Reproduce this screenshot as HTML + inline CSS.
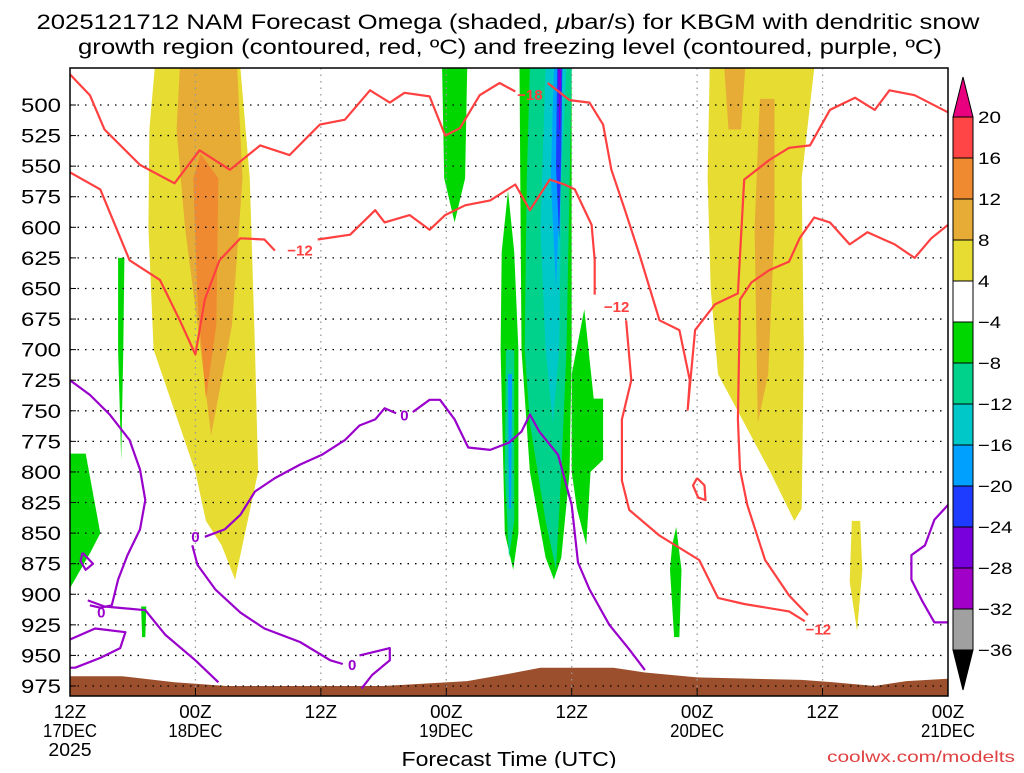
<!DOCTYPE html>
<html><head><meta charset="utf-8"><style>
body{margin:0;background:#fff;width:1024px;height:768px;overflow:hidden;font-family:"Liberation Sans",sans-serif}
svg text{font-family:"Liberation Sans",sans-serif}
</style></head><body>
<svg id="chart" width="1024" height="768" xmlns="http://www.w3.org/2000/svg">
<text x="508" y="29" font-size="21" text-anchor="middle" textLength="943" lengthAdjust="spacingAndGlyphs">2025121712 NAM Forecast Omega (shaded, <tspan font-style="italic">μ</tspan>bar/s) for KBGM with dendritic snow</text>
<text x="510" y="54" font-size="21" text-anchor="middle" textLength="864" lengthAdjust="spacingAndGlyphs">growth region (contoured, red, ºC) and freezing level (contoured, purple, ºC)</text>
<g id="shade"></g><g id="grid"></g><g id="contours"></g><g id="axes"></g><g id="cbar"></g>
<text x="509" y="766" font-size="20" text-anchor="middle" textLength="215" lengthAdjust="spacingAndGlyphs">Forecast Time (UTC)</text>
<text x="1015" y="762" font-size="16" fill="#e04040" text-anchor="end" textLength="188" lengthAdjust="spacingAndGlyphs">coolwx.com/modelts</text>
</svg>
<script>
const pressureTicks=[500,525,550,575,600,625,650,675,700,725,750,775,800,825,850,875,900,925,950,975];
const timeHours=[0,12,24,36,48,60,72,84];
const timeLabels=[["12Z","17DEC","2025"],["00Z","18DEC"],["12Z"],["00Z","19DEC"],["12Z"],["00Z","20DEC"],["12Z"],["00Z","21DEC"]];
const cbarLabels=["20","16","12","8","4","−4","−8","−12","−16","−20","−24","−28","−32","−36"];
const cbarColors=["#ff4545","#f08a30","#e6ac35","#e6dc32","#ffffff","#00d700","#00d28c","#00c8c8","#00a0ff","#1e3cff","#7800dc","#a000c8","#a0a0a0"];
// shaded omega regions [hour, pressure]
const yellow1=[[8.1,470],[16.3,470],[17.2,560],[17.7,700],[18,800],[16,880],[15.8,888],[14.5,860],[13,840],[12,800],[10,750],[8,700],[7.5,600],[7.6,520]];
const ltorange1=[[10.5,470],[16,470],[16.5,560],[15.5,680],[13.5,770],[12.5,700],[11,600],[10.2,520]];
const orange1=[[12.5,540],[14.2,560],[14,680],[13,740],[12.2,660],[11.8,560]];
const yellow2=[[61.2,470],[71.2,470],[70,560],[70.2,700],[70,830],[69.3,840],[67,800],[64.5,760],[62,720],[61.3,650],[61,560]];
const ltorange2=[[66,495],[67.4,495],[67.4,600],[66.8,720],[65.8,760],[65.5,600]];
const ltorange3=[[62.6,470],[64.6,470],[64.2,520],[63,520]];
const yellow3=[[74.8,840],[75.6,840],[75.8,880],[75.3,930],[74.6,890]];
const greenA=[[4.6,625],[5.2,625],[5.1,700],[4.9,790],[4.6,700]];
const greenB=[[0,785],[1.5,785],[2.9,850],[2,865],[0,895]];
const greenC=[[6.8,910],[7.3,910],[7.2,935],[6.9,935]];
const greenD=[[35.6,470],[38,470],[37.8,560],[36.8,596],[35.8,560]];
const greenMain=[[43,470],[48,470],[48,700],[47.8,800],[47,870],[46.3,888],[45.5,870],[44,800],[43.2,700]];
const greenLeft=[[41.9,570],[42.5,620],[42.9,700],[42.9,850],[42.4,880],[41.6,850],[41.2,700],[41.3,620]];
const greenRight=[[48,720],[49.2,667],[50.1,740],[51,740],[51,790],[49.8,800],[49.4,860],[48.5,830],[48,800]];
const greenE=[[57.6,860],[58,845],[58.5,880],[58.3,935],[57.8,935],[57.4,880]];
const teal1=[[44,470],[48,470],[47.5,700],[47,800],[46.5,880],[45.5,840],[44,760],[43.5,700],[43.7,560]];
const teal2=[[41.7,700],[42.5,700],[42.5,840],[42,870],[41.6,800]];
const cyan1=[[45.5,470],[47.5,470],[47,560],[46.8,700],[46.2,760],[45.5,700],[45,600]];
const lblue1=[[46.3,470],[47.1,470],[46.8,580],[46.5,650],[46,560]];
const lblue2=[[41.9,720],[42.3,720],[42.2,830],[42,830]];
const blue1=[[46.6,470],[47.1,470],[47,540],[46.8,610],[46.5,550]];
const purple1=[[46.7,470],[47,470],[46.9,520],[46.8,520]];
const terrainHours=[0,5,10,15,30,38,42,45,52,55,60,70,73,77,80,84];
const terrainPressure=[967,967,972,975,975,971,965,960,960,964,968,970,972,975,971,969];
// contours
const red18=[[0,475],[1.9,492],[3.3,520],[6.7,549],[10,564],[12.4,537],[15.3,553],[18.2,533],[21,541],[23.9,516],[26.3,512],[28.7,488],[30.6,498],[32,490],[34.4,493],[35.9,525],[37.3,519],[39.2,492],[41.1,482],[42.6,489]];
const red18b=[[45.7,482],[47.8,496],[49.7,498],[51,516],[51.8,553],[53.1,586],[54.5,623],[56.4,676],[58.3,684],[59.3,725],[59.1,749],[59.8,684],[61.7,663],[63.9,654],[64.5,561],[66.9,545],[68.8,535],[70.8,533],[72.7,504],[75.1,494],[77,504],[78.4,488],[80.8,492],[84,506]];
const red12a=[[0,555],[2.9,569],[5.7,627],[8.6,643],[10.5,676],[12,704],[12.9,659],[14.3,627],[16.3,609],[18.6,610],[19.6,619]];
const red12b=[[23.7,610],[26.8,606],[29.2,586],[30.1,596],[32.5,590],[34.4,602],[35.9,590],[37.8,582],[40.2,578],[42.6,565],[44,586],[45.9,561],[47.3,565],[48.3,569],[49.9,598],[50.2,627],[50.2,655]];
const red12c=[[53.2,676],[53.7,725],[52.8,757],[52.8,807],[53.5,831],[56.4,852],[60.2,872],[62,903],[64.5,908],[68.8,914],[70.3,922]];
const red12d=[[70.6,917],[68.8,901],[66.5,872],[64.8,827],[64.1,798],[63.9,757],[64.1,659],[65.2,645],[66.9,635],[68.8,628],[69.8,609],[71.2,592],[72.7,596],[74.6,614],[76.3,604],[78.9,614],[80.8,625],[82.4,609],[84,598]];
const redLoop=[[60,805],[60.7,811],[60.8,823],[60.1,821],[59.6,811],[60,805]];
const frz1=[[0,725],[1.9,737],[3.8,753],[5.7,774],[6.7,798],[7.2,823],[6.7,847],[5.5,868],[4.6,888],[4,909],[2.9,911],[1.9,909]];
const frz2=[[1.7,905],[3.3,910],[7.2,913],[9.1,933],[12,954],[14.2,972]];
const frz3=[[0,937],[2.4,928],[5.3,931],[4.8,944],[2.9,952],[0.5,960],[0,960]];
const frz4=[[12.9,853],[14.8,847],[16.3,835],[17.7,816],[19.6,805],[22,794],[24.1,786],[26.3,774],[27.7,762],[29.2,757],[30.1,748],[31.2,752]];
const frz5=[[32.8,751],[34.4,741],[35.4,741],[36.8,757],[38.1,780],[40.2,782],[42,776],[43.2,767],[44,753],[44.9,767],[46.7,786],[47.3,805],[48,827],[48.6,874],[49.7,896],[51.6,925],[53.5,945],[55,962]];
const frz6=[[11.7,860],[12.2,876],[13.9,896],[16.3,915],[18.6,928],[22,939],[24.9,954],[26.1,957]];
const frz7=[[27.7,950],[30.6,944],[30.6,954],[28.9,966],[27.9,977]];
const frz8=[[84,827],[82.7,839],[81.8,860],[80.5,868],[80.5,888],[81.5,905],[82.7,923],[84,923]];
const frz9=[[1.2,866],[2.2,875],[1.5,880],[1.0,873],[1.2,866]];
const redLabels=[["−18",44,492],["−12",22,619],["−12",52.3,665],["−12",71.6,929]];
const frzLabels=[["0",12,853],["0",32,754],["0",27,958],["0",3,915]];

const X0=70,X1=948,Y0=68,Y1=696;
const x=h=>X0+h*(X1-X0)/84;
const y=p=>105+(p-500)*(686-105)/475;
const NS="http://www.w3.org/2000/svg";
function mk(tag,parent,attrs){const e=document.createElementNS(NS,tag);for(const k in attrs)e.setAttribute(k,attrs[k]);parent.appendChild(e);return e;}
const pts=a=>a.map(d=>x(d[0]).toFixed(1)+","+y(d[1]).toFixed(1)).join(" ");
const shade=document.getElementById('shade');
const clip=mk('clipPath',mk('defs',document.getElementById('chart'),{}),{id:'pc'});
mk('rect',clip,{x:X0,y:Y0,width:X1-X0,height:Y1-Y0});
shade.setAttribute('clip-path','url(#pc)');
const polys=[[yellow1,"#e6dc32","yellow-region-1"],[ltorange1,"#e6ac35","lightorange-region-1"],[orange1,"#f08a30","orange-region-1"],[yellow2,"#e6dc32","yellow-region-2"],[ltorange2,"#e6ac35","lightorange-region-2"],[ltorange3,"#e6ac35","lightorange-region-3"],[yellow3,"#e6dc32","yellow-region-3"],[greenA,"#00d700","green-region-a"],[greenB,"#00d700","green-region-b"],[greenC,"#00d700","green-region-c"],[greenD,"#00d700","green-region-d"],[greenMain,"#00d700","green-region-main"],[greenLeft,"#00d700","green-region-left"],[greenRight,"#00d700","green-region-right"],[greenE,"#00d700","green-region-e"],[teal1,"#00d28c","teal-region-1"],[teal2,"#00d28c","teal-region-2"],[cyan1,"#00c8c8","cyan-region-1"],[lblue1,"#00a0ff","lightblue-region-1"],[lblue2,"#00a0ff","lightblue-region-2"],[blue1,"#1e3cff","blue-region-1"],[purple1,"#7800dc","purple-region-1"]];
polys.forEach(q=>{const e=mk('polygon',shade,{points:pts(q[0]),fill:q[1]});

});
const terr=terrainHours.map((h,i)=>[h,terrainPressure[i]]);
const tp=mk('polygon',shade,{points:pts(terr)+" "+x(84)+","+Y1+" "+x(0)+","+Y1,fill:"#9c4f2c"});


// grid
const grid=document.getElementById('grid');
pressureTicks.forEach(p=>{const l=mk('line',grid,{x1:X0,x2:X1,y1:y(p),y2:y(p),stroke:"#000","stroke-width":1.3,"stroke-dasharray":"1.5 6"});

});
timeHours.slice(1,-1).forEach(h=>{const l=mk('line',grid,{x1:x(h),x2:x(h),y1:Y0,y2:Y1,stroke:"#999","stroke-width":1.3,"stroke-dasharray":"1.5 5"});

});
// contours
const cg=document.getElementById('contours');cg.setAttribute('clip-path','url(#pc)');
[[red18,"red-contour-18a"],[red18b,"red-contour-18b"],[red12a,"red-contour-12a"],[red12b,"red-contour-12b"],[red12c,"red-contour-12c"],[red12d,"red-contour-12d"],[redLoop,"red-contour-loop"]].forEach(c=>{const e=mk('polyline',cg,{points:pts(c[0]),fill:"none",stroke:"#ff4040","stroke-width":2.2,"stroke-linejoin":"round"});

});
[frz1,frz2,frz3,frz4,frz5,frz6,frz7,frz8,frz9].forEach((c,i)=>{const e=mk('polyline',cg,{points:pts(c),fill:"none",stroke:"#9900cc","stroke-width":2.2,"stroke-linejoin":"round"});

});
redLabels.forEach(l=>{const t=mk('text',cg,{x:x(l[1]),y:y(l[2])+5,"font-size":15,"font-weight":"bold",fill:"#ff4040","text-anchor":"middle"});t.textContent=l[0];

});
frzLabels.forEach(l=>{const t=mk('text',cg,{x:x(l[1]),y:y(l[2])+5,"font-size":15,"font-weight":"bold",fill:"#9900cc","text-anchor":"middle"});t.textContent=l[0];

});
// axes
const ax=document.getElementById('axes');
const fr=mk('rect',ax,{x:X0,y:Y0,width:X1-X0,height:Y1-Y0,fill:"none",stroke:"#000","stroke-width":1.5});


pressureTicks.forEach(p=>{mk('line',ax,{x1:X0,x2:X0+6,y1:y(p),y2:y(p),stroke:"#000"});
const t=mk('text',ax,{x:61,y:y(p)+7,"font-size":19,"text-anchor":"end",textLength:40,lengthAdjust:"spacingAndGlyphs"});t.textContent=p;

});
timeHours.forEach((h,i)=>{mk('line',ax,{x1:x(h),x2:x(h),y1:Y1,y2:Y1-8,stroke:"#000"});
timeLabels[i].forEach((s,j)=>{const t=mk('text',ax,{x:x(h),y:718+j*19,"font-size":18,"text-anchor":"middle",textLength:s.length*10.8,lengthAdjust:"spacingAndGlyphs"});t.textContent=s;

});});
// colorbar
const cb=document.getElementById('cbar');
const CX=953,CW=20,CT=117,CS=(650-117)/13;
const tri=mk('polygon',cb,{points:`${CX},${CT} ${CX+CW},${CT} ${CX+CW/2},77`,fill:"#e8007f",stroke:"#000"});


cbarColors.forEach((c,i)=>{const r=mk('rect',cb,{x:CX,y:CT+i*CS,width:CW,height:CS,fill:c,stroke:"#000"});

});
const tb=mk('polygon',cb,{points:`${CX},650 ${CX+CW},650 ${CX+CW/2},690`,fill:"#000",stroke:"#000"});


cbarLabels.forEach((s,i)=>{const t=mk('text',cb,{x:978,y:CT+i*CS+6,"font-size":17,textLength:s.length*11.5,lengthAdjust:"spacingAndGlyphs"});t.textContent=s;

});
</script>
</body></html>
